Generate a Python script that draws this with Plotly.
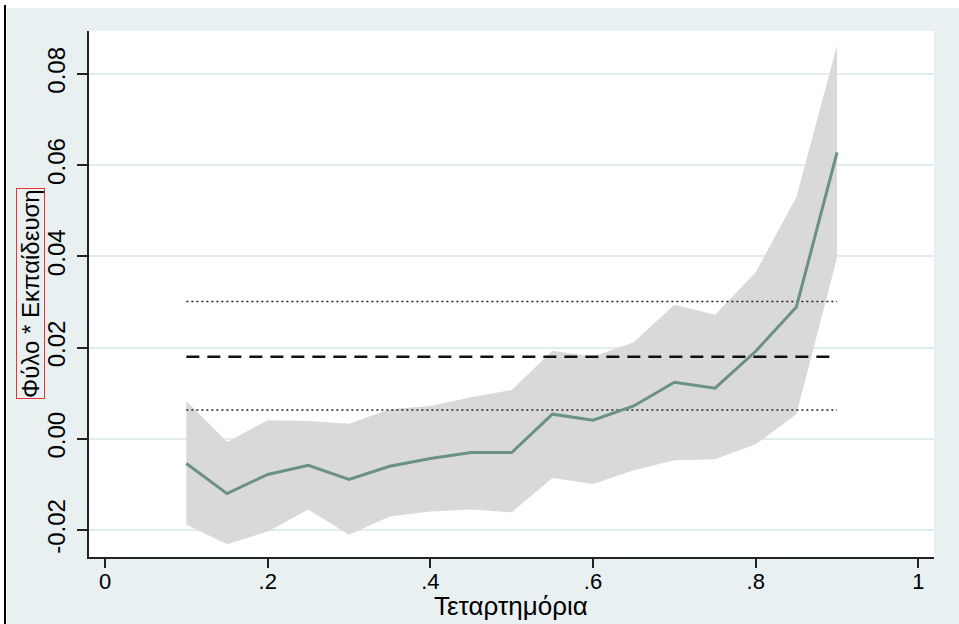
import plotly.graph_objects as go

quantiles = [0.10, 0.15, 0.20, 0.25, 0.30, 0.35, 0.40, 0.45, 0.50, 0.55, 0.60, 0.65, 0.70, 0.75, 0.80, 0.85, 0.90]
coef = [-0.0054, -0.0120, -0.0078, -0.0058, -0.0089, -0.0060, -0.0043, -0.0030, -0.0030, 0.0054, 0.0041, 0.0072, 0.0124, 0.0111, 0.0192, 0.0289, 0.0628]
upper = [0.0083, -0.0007, 0.0041, 0.0039, 0.0033, 0.0065, 0.0072, 0.0091, 0.0107, 0.0193, 0.0180, 0.0212, 0.0294, 0.0272, 0.0365, 0.0530, 0.0863]
lower = [-0.0188, -0.0231, -0.0203, -0.0155, -0.0210, -0.0170, -0.0159, -0.0155, -0.0161, -0.0086, -0.0099, -0.0069, -0.0047, -0.0045, -0.0012, 0.0054, 0.0397]
ols_coef = 0.0180
ols_upper = 0.0301
ols_lower = 0.0063
ols_x = [0.1, 0.9]

x_ticks = [0, 0.2, 0.4, 0.6, 0.8, 1]
x_ticklabels = ["0", ".2", ".4", ".6", ".8", "1"]
y_ticks = [-0.02, 0.0, 0.02, 0.04, 0.06, 0.08]
y_ticklabels = ["-0.02", "0.00", "0.02", "0.04", "0.06", "0.08"]

x_title = "Τεταρτημόρια"
y_title = "Φύλο * Εκπαίδευση"

BG = "#e8f0f2"
GRID = "#e1ecef"
FONT = "Liberation Sans, Arial, sans-serif"
FS = 24

fig = go.Figure()
fig.add_trace(go.Scatter(x=quantiles, y=upper, mode="lines", line=dict(width=0, color="#d9d9d9"),
                         showlegend=False, hoverinfo="skip"))
fig.add_trace(go.Scatter(x=quantiles, y=lower, mode="lines", line=dict(width=0, color="#d9d9d9"),
                         fill="tonexty", fillcolor="#d9d9d9", showlegend=False, hoverinfo="skip"))
for v in (ols_upper, ols_lower):
    fig.add_trace(go.Scatter(x=ols_x, y=[v, v], mode="lines",
                             line=dict(color="#222222", width=1.5, dash="2px,3px"), showlegend=False))
fig.add_trace(go.Scatter(x=ols_x, y=[ols_coef, ols_coef], mode="lines",
                         line=dict(color="#111111", width=2.5, dash="13px,8px"), showlegend=False))
fig.add_trace(go.Scatter(x=quantiles, y=coef, mode="lines",
                         line=dict(color="#6a9182", width=3), showlegend=False))

W, H = 959, 624
L, R, T, B = 89, 934, 31, 557
pw, ph = R - L, B - T

def px(xp):
    return (xp - L) / pw

def py(yp):
    return (B - yp) / ph

shapes = [
    dict(type="rect", xref="paper", yref="paper", x0=px(0), x1=px(W), y0=py(8), y1=py(0),
         fillcolor="white", line=dict(width=0), layer="below"),
    dict(type="rect", xref="paper", yref="paper", x0=px(0), x1=px(7), y0=py(H), y1=py(0),
         fillcolor="white", line=dict(width=0), layer="below"),
    dict(type="line", xref="paper", yref="paper", x0=px(5), x1=px(5), y0=py(H), y1=py(5),
         line=dict(color="black", width=2), layer="above"),
]

fig.update_layout(
    width=W, height=H,
    margin=dict(l=L, r=W - R, t=T, b=H - B, autoexpand=False),
    paper_bgcolor=BG, plot_bgcolor="white",
    font=dict(family=FONT, size=FS, color="black"),
    shapes=shapes,
    annotations=[
        dict(text=y_title, xref="paper", yref="paper", x=px(30), y=py(294),
             xanchor="center", yanchor="middle", textangle=-90, showarrow=False,
             font=dict(family=FONT, size=FS, color="black"),
             bordercolor="#ee3333", borderwidth=1, borderpad=0),
        dict(text=x_title, xref="paper", yref="paper", x=px(511), y=py(606),
             xanchor="center", yanchor="middle", showarrow=False,
             font=dict(family=FONT, size=26, color="black")),
    ],
)
fig.update_xaxes(range=[-0.0197, 1.0192], tickvals=x_ticks, ticktext=x_ticklabels,
                 showgrid=False, zeroline=False, showline=True, linecolor="#222222", linewidth=1.5,
                 ticks="outside", ticklen=9, tickwidth=1.5, tickcolor="#222222",
                 ticklabelstandoff=-5,
                 tickfont=dict(family=FONT, size=22, color="black"))
fig.update_yaxes(range=[-0.0259, 0.0894], tickvals=y_ticks, ticktext=y_ticklabels,
                 showgrid=True, gridcolor=GRID, gridwidth=2, zeroline=False,
                 showline=True, linecolor="#222222", linewidth=1.5,
                 ticks="outside", ticklen=10, tickwidth=1.5, tickcolor="#222222",
                 ticklabelstandoff=3,
                 tickangle=-90, tickfont=dict(family=FONT, size=FS, color="black"))

fig.write_html("out.html")
